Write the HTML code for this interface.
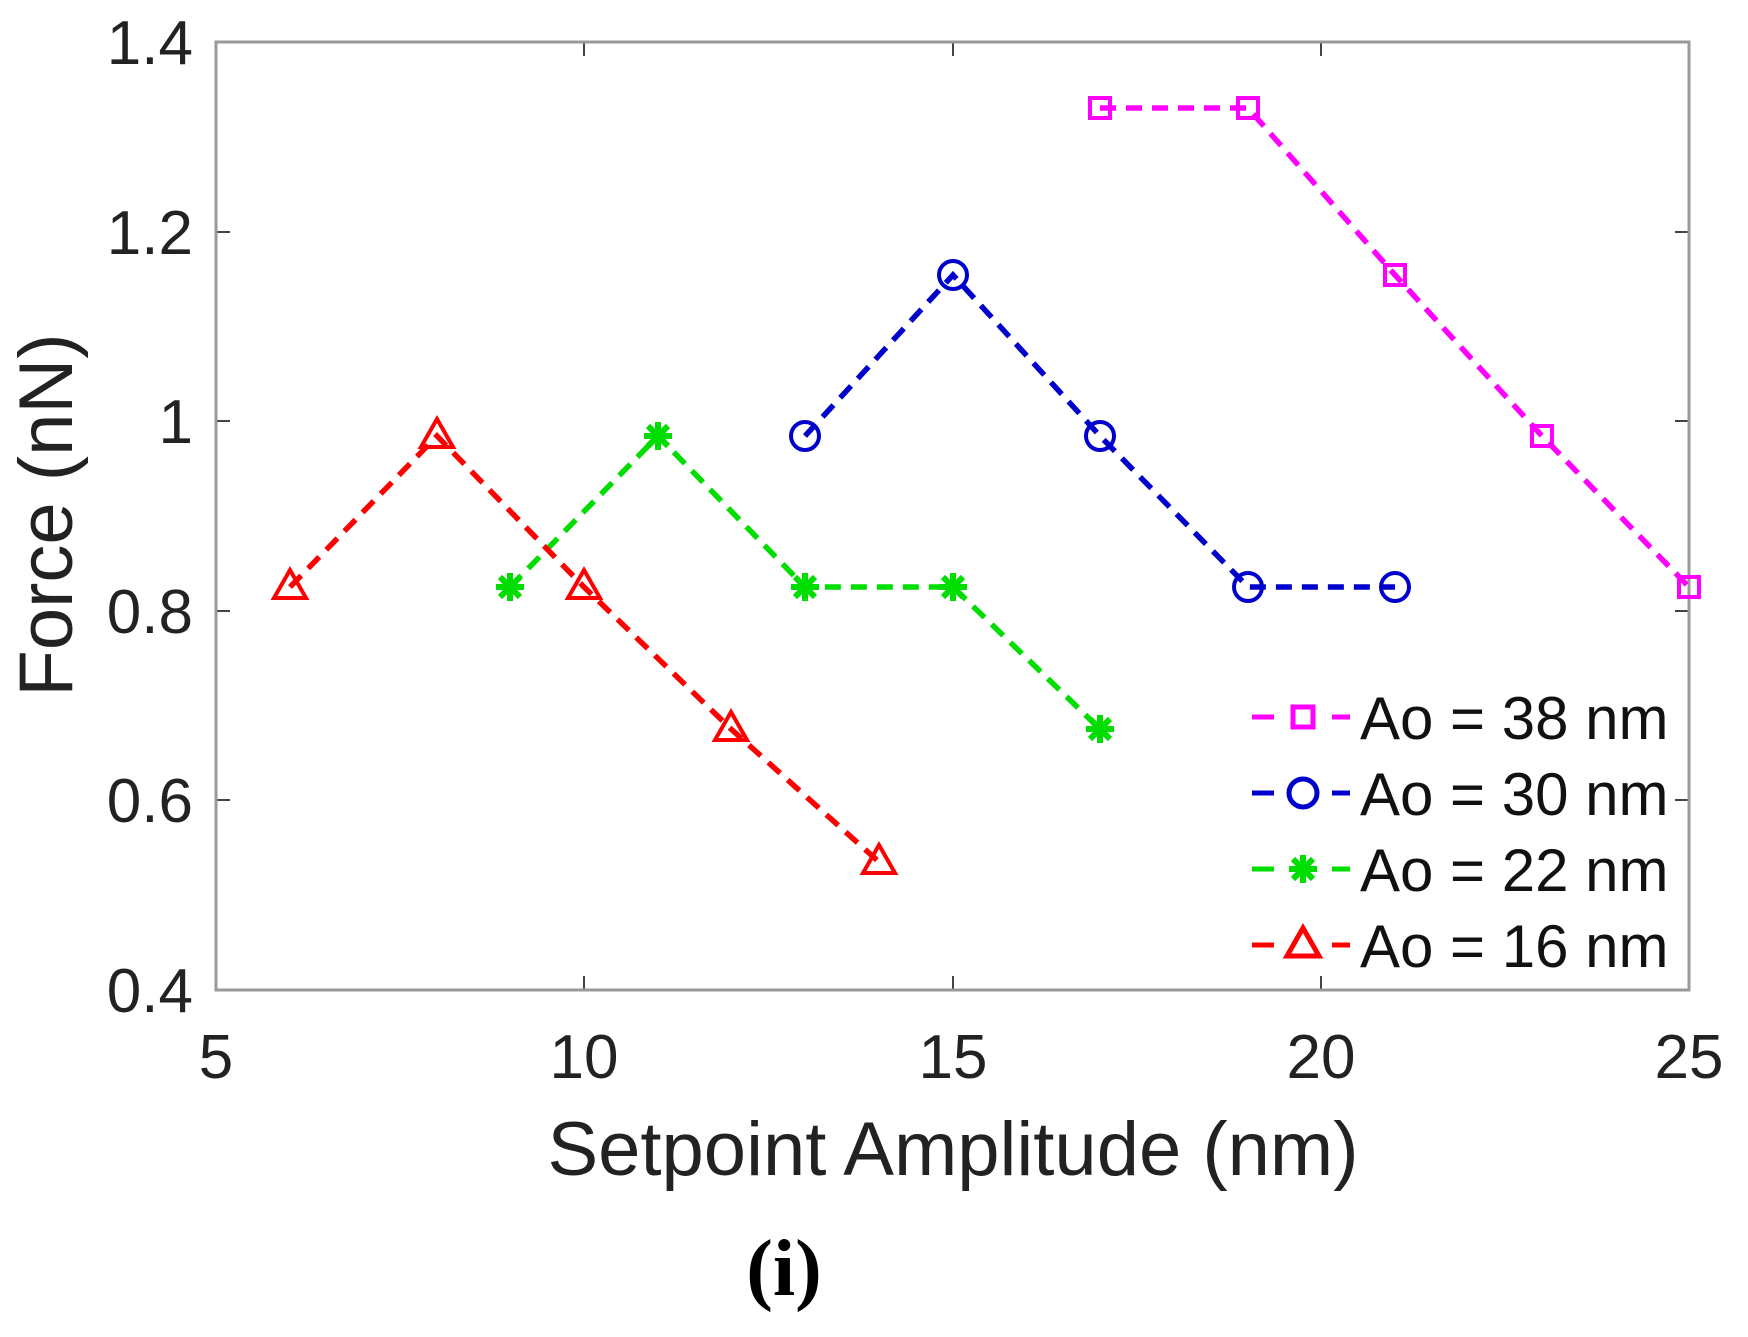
<!DOCTYPE html>
<html><head><style>html,body{margin:0;padding:0;background:#fff}</style></head>
<body>
<svg width="1748" height="1332" viewBox="0 0 1748 1332" xmlns="http://www.w3.org/2000/svg" font-family="Liberation Sans, sans-serif">
<rect width="1748" height="1332" fill="#fff"/>
<g stroke="#444" stroke-width="2">
<line x1="216" y1="232" x2="230" y2="232"/><line x1="216" y1="421" x2="230" y2="421"/><line x1="216" y1="611" x2="230" y2="611"/><line x1="216" y1="800" x2="230" y2="800"/>
<line x1="1689" y1="232" x2="1675" y2="232"/><line x1="1689" y1="421" x2="1675" y2="421"/><line x1="1689" y1="611" x2="1675" y2="611"/><line x1="1689" y1="800" x2="1675" y2="800"/>
<line x1="584" y1="990" x2="584" y2="976"/><line x1="953" y1="990" x2="953" y2="976"/><line x1="1321" y1="990" x2="1321" y2="976"/>
<line x1="584" y1="42" x2="584" y2="56"/><line x1="953" y1="42" x2="953" y2="56"/><line x1="1321" y1="42" x2="1321" y2="56"/>
</g>
<rect x="216" y="42" width="1473" height="948" fill="none" stroke="#999" stroke-width="3"/>
<g font-size="62" fill="#222" text-anchor="end">
<text x="193" y="64">1.4</text><text x="193" y="254">1.2</text><text x="193" y="443">1</text><text x="193" y="633">0.8</text><text x="193" y="822">0.6</text><text x="193" y="1012">0.4</text>
</g>
<g font-size="62" fill="#222" text-anchor="middle">
<text x="216" y="1078">5</text><text x="584" y="1078">10</text><text x="953" y="1078">15</text><text x="1321" y="1078">20</text><text x="1689" y="1078">25</text>
<text x="953" y="1175" font-size="76">Setpoint Amplitude (nm)</text>
<text transform="translate(72,515) rotate(-90)" font-size="76">Force (nN)</text>
<text x="784" y="1295" font-size="80" font-weight="bold" font-family="Liberation Serif, serif" fill="#000">(i)</text>
</g>
<g fill="none" stroke-width="5.5" stroke-dasharray="16,10">
<polyline stroke="#ff00ff" points="1100,108 1248,108 1395,275 1542,436 1689,587"/>
<polyline stroke="#0000cc" points="805,436 953,275 1100,436 1248,587 1395,587"/>
<polyline stroke="#00dd00" points="510,587 658,436 805,587 953,587 1100,729"/>
<polyline stroke="#ff0000" points="290,587 437,436 584,587 731,729 879,862"/>
</g>
<g fill="none" stroke-width="4">
<g stroke="#ff00ff"><rect x="1090" y="98" width="20" height="20"/><rect x="1238" y="98" width="20" height="20"/><rect x="1385" y="265" width="20" height="20"/><rect x="1532" y="426" width="20" height="20"/><rect x="1679" y="577" width="20" height="20"/></g>
<g stroke="#0000cc"><circle cx="805" cy="436" r="14"/><circle cx="953" cy="275" r="14"/><circle cx="1100" cy="436" r="14"/><circle cx="1248" cy="587" r="14"/><circle cx="1395" cy="587" r="14"/></g>
<g stroke="#00dd00" stroke-width="6">
<path d="M-14,0H14M0,-14V14M-10,-10L10,10M-10,10L10,-10" transform="translate(510,587)"/>
<path d="M-14,0H14M0,-14V14M-10,-10L10,10M-10,10L10,-10" transform="translate(658,436)"/>
<path d="M-14,0H14M0,-14V14M-10,-10L10,10M-10,10L10,-10" transform="translate(805,587)"/>
<path d="M-14,0H14M0,-14V14M-10,-10L10,10M-10,10L10,-10" transform="translate(953,587)"/>
<path d="M-14,0H14M0,-14V14M-10,-10L10,10M-10,10L10,-10" transform="translate(1100,729)"/>
</g>
<g stroke="#ff0000">
<path d="M0,-17L16,11H-16Z" transform="translate(290,587)"/><path d="M0,-17L16,11H-16Z" transform="translate(437,436)"/><path d="M0,-17L16,11H-16Z" transform="translate(584,587)"/><path d="M0,-17L16,11H-16Z" transform="translate(731,729)"/><path d="M0,-17L16,11H-16Z" transform="translate(879,862)"/>
</g>
</g>
<g stroke-width="5">
<g stroke="#ff00ff"><line x1="1252" y1="717" x2="1274" y2="717"/><line x1="1332" y1="717" x2="1350" y2="717"/><rect x="1293" y="707" width="20" height="20" fill="none"/></g>
<g stroke="#0000cc"><line x1="1252" y1="793" x2="1274" y2="793"/><line x1="1332" y1="793" x2="1350" y2="793"/><circle cx="1303" cy="793" r="14" fill="none"/></g>
<g stroke="#00dd00"><line x1="1252" y1="869" x2="1274" y2="869"/><line x1="1332" y1="869" x2="1350" y2="869"/><path stroke-width="6" d="M-14,0H14M0,-14V14M-10,-10L10,10M-10,10L10,-10" transform="translate(1303,869)"/></g>
<g stroke="#ff0000"><line x1="1252" y1="945" x2="1274" y2="945"/><line x1="1332" y1="945" x2="1350" y2="945"/><path fill="none" d="M0,-17L16,11H-16Z" transform="translate(1303,945)"/></g>
</g>
<g font-size="60" fill="#111">
<text x="1360" y="739">Ao = 38 nm</text><text x="1360" y="815">Ao = 30 nm</text><text x="1360" y="891">Ao = 22 nm</text><text x="1360" y="967">Ao = 16 nm</text>
</g>
</svg>
</body></html>
